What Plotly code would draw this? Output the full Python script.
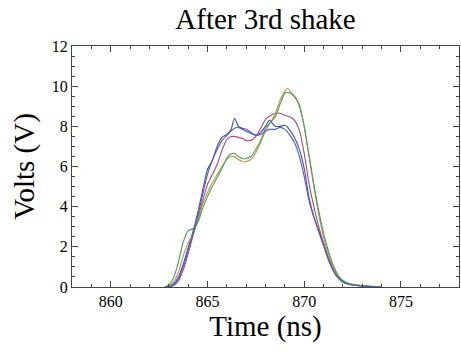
import plotly.graph_objects as go

time_ns = [862.8, 863.0, 863.25, 863.5, 863.75, 864.0, 864.25, 864.5, 864.75,
           865.0, 865.25, 865.5, 865.75, 866.0, 866.2, 866.4, 866.6, 866.8, 867.0,
           867.25, 867.5, 867.75, 868.0, 868.2, 868.5, 868.75, 869.0, 869.15, 869.3,
           869.5, 869.75, 870.0, 870.25, 870.5, 870.75, 871.0, 871.25, 871.5, 871.75,
           872.0, 872.25, 872.5, 873.0, 873.5, 874.0]

blue_a = [0, 0.03, 0.15, 0.5, 1.15, 1.95, 2.75, 3.7, 4.8,
          5.85, 6.3, 7.0, 7.45, 7.6, 7.8, 8.4, 8.0, 7.9, 7.85,
          7.7, 7.55, 7.7, 8.0, 8.3, 8.0, 8.0, 8.05, 7.95, 7.75,
          7.45, 6.85, 5.9, 4.45, 3.5, 2.8, 2.1, 1.4, 0.85, 0.45,
          0.25, 0.15, 0.1, 0.05, 0.02, 0]

blue_b = [0, 0.02, 0.1, 0.4, 1.0, 1.8, 2.6, 3.55, 4.6,
          5.6, 6.3, 6.85, 7.3, 7.55, 7.75, 7.9, 7.95, 7.85, 7.75,
          7.65, 7.55, 7.6, 7.75, 7.85, 7.85, 7.95, 7.85, 7.7, 7.5,
          7.2, 6.5, 5.5, 4.3, 3.45, 2.75, 2.05, 1.35, 0.8, 0.45,
          0.25, 0.15, 0.1, 0.05, 0.02, 0]

magenta = [0, 0.01, 0.07, 0.3, 0.85, 1.65, 2.55, 3.4, 4.3,
           5.1, 5.6, 6.1, 6.8, 7.35, 7.48, 7.5, 7.45, 7.4, 7.3,
           7.3, 7.5, 7.9, 8.35, 8.5, 8.65, 8.65, 8.55, 8.5, 8.45,
           8.3, 7.8, 6.65, 5.15, 4.0, 3.0, 2.2, 1.5, 0.9, 0.5,
           0.25, 0.15, 0.1, 0.05, 0.02, 0]

gold = [0, 0.05, 0.25, 0.75, 1.55, 2.2, 2.6, 3.3, 4.1,
        4.7, 5.2, 5.6, 6.0, 6.35, 6.5, 6.48, 6.35, 6.25, 6.25,
        6.35, 6.7, 7.2, 7.75, 8.1, 8.6, 9.3, 9.75, 9.9, 9.7,
        9.45, 9.1, 8.0, 6.5, 5.0, 3.6, 2.5, 1.65, 1.0, 0.55,
        0.3, 0.18, 0.12, 0.06, 0.02, 0]

green = [0, 0.1, 0.45, 1.25, 2.25, 2.8, 2.9, 3.2, 3.9,
         4.5, 5.0, 5.45, 5.9, 6.4, 6.62, 6.65, 6.5, 6.4, 6.4,
         6.5, 6.85, 7.3, 7.9, 8.15, 8.45, 9.1, 9.65, 9.7, 9.65,
         9.5, 9.0, 8.0, 6.55, 5.1, 3.8, 2.7, 1.8, 1.1, 0.6,
         0.33, 0.2, 0.13, 0.07, 0.03, 0]

series = [
    ("trace 1", blue_a, "#4a4ab8"),
    ("trace 2", magenta, "#b0457e"),
    ("trace 3", gold, "#b89a40"),
    ("trace 4", green, "#45a055"),
    ("trace 5", blue_b, "#4a62b8"),
]

fig = go.Figure()
for name, vals, col in series:
    fig.add_trace(go.Scatter(x=time_ns, y=vals, mode="lines", name=name,
                             line=dict(color=col, width=1.1, shape="spline", smoothing=0.6)))

serif = "Liberation Serif"
axis_common = dict(
    showline=True, linecolor="#444", linewidth=1, mirror="ticks",
    ticks="inside", tickcolor="#444", ticklen=6, tickwidth=1,
    showgrid=False, zeroline=False,
    tickfont=dict(family=serif, size=16, color="black"),
)

fig.update_layout(
    width=461, height=351,
    margin=dict(l=72, r=2, t=46, b=64),
    paper_bgcolor="white", plot_bgcolor="white",
    font=dict(family=serif, size=16, color="black"),
    showlegend=False,
    title=dict(text="After 3rd shake", x=0.5, xref="paper", xanchor="center",
               y=0.975, yref="container", yanchor="top",
               font=dict(family=serif, size=29, color="black")),
    xaxis=dict(range=[858, 878], tickvals=[860, 865, 870, 875],
               minor=dict(dtick=1, tick0=858, ticks="inside", ticklen=3, tickcolor="#444"),
               title=dict(text="Time (ns)", font=dict(family=serif, size=29, color="black"), standoff=6),
               **axis_common),
    yaxis=dict(range=[0, 12], tickvals=[0, 2, 4, 6, 8, 10, 12],
               minor=dict(dtick=0.5, tick0=0, ticks="inside", ticklen=3, tickcolor="#444"),
               title=dict(text="Volts (V)", font=dict(family=serif, size=29, color="black"), standoff=8),
               **axis_common),
)

fig.write_html("out.html")
